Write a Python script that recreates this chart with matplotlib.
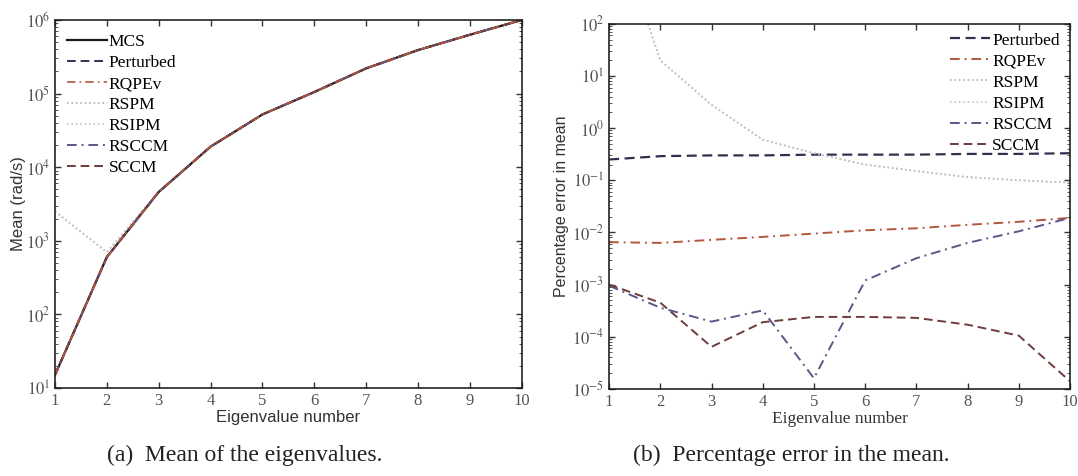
import numpy as np
import matplotlib
matplotlib.use("Agg")
import matplotlib.pyplot as plt
from matplotlib.ticker import LogLocator, FuncFormatter, NullFormatter

plt.rcParams['mathtext.fontset'] = 'stix'

# Eigenvalue index
eig_num = [1, 2, 3, 4, 5, 6, 7, 8, 9, 10]

# Mean of eigenvalues (rad/s)
mean_mcs = [15, 600, 4600, 19000, 52000, 105000, 220000, 390000, 630000, 1000000]
mean_perturbed = [15, 600, 4600, 19000, 52000, 105000, 220000, 390000, 630000, 1000000]
mean_rqpev = [15, 600, 4600, 19000, 52000, 105000, 220000, 390000, 630000, 1000000]
mean_rspm = [2500, 700, 4600, 19000, 52000, 105000, 220000, 390000, 630000, 1000000]
mean_rsipm = [2500, 700, 4600, 19000, 52000, 105000, 220000, 390000, 630000, 1000000]
mean_rsccm = [15, 600, 4600, 19000, 52000, 105000, 220000, 390000, 630000, 1000000]
mean_sccm = [15, 600, 4600, 19000, 52000, 105000, 220000, 390000, 630000, 1000000]

# Percentage error in the mean
err_perturbed = [0.25, 0.29, 0.30, 0.30, 0.31, 0.31, 0.31, 0.32, 0.32, 0.33]
err_rqpev = [0.0065, 0.0063, 0.0072, 0.0082, 0.0095, 0.011, 0.012, 0.014, 0.016, 0.019]
err_rspm = [16000, 20, 2.8, 0.6, 0.33, 0.2, 0.15, 0.115, 0.1, 0.09]
err_rsipm = [16000, 20, 2.8, 0.6, 0.33, 0.2, 0.15, 0.115, 0.1, 0.09]
err_rsccm = [9.5e-4, 3.6e-4, 1.95e-4, 3.2e-4, 1.6e-5, 1.2e-3, 3.2e-3, 6.3e-3, 1.05e-2, 1.9e-2]
err_sccm = [1.0e-3, 4.5e-4, 6.4e-5, 1.9e-4, 2.4e-4, 2.4e-4, 2.3e-4, 1.7e-4, 1.05e-4, 1.4e-5]

C_MCS = '#1a1a1a'
C_PERT = '#2e3150'
C_RQPEV = '#b4553e'
C_RSPM = '#b0b0b8'
C_RSIPM = '#c4c4cc'
C_RSCCM = '#5c5585'
C_SCCM = '#6e3c3c'

DASH = (0, (4.5, 2.5))
DASHDOT = (0, (5, 2.5, 1, 2.5))

SERIF = ['Liberation Serif', 'DejaVu Serif']
SANS = ['Liberation Sans', 'DejaVu Sans']


def pow_fmt(v, pos):
    e = int(round(np.log10(v)))
    return r'$\mathrm{10}^{%d}$' % e


def style_axes(ax, ymin, ymax):
    ax.set_yscale('log')
    ax.set_xlim(1, 10)
    ax.set_ylim(ymin, ymax)
    ax.set_xticks(eig_num)
    ax.yaxis.set_major_locator(LogLocator(base=10, numticks=20))
    ax.yaxis.set_minor_locator(LogLocator(base=10, subs=np.arange(2, 10), numticks=20))
    ax.yaxis.set_major_formatter(FuncFormatter(pow_fmt))
    ax.yaxis.set_minor_formatter(NullFormatter())
    ax.tick_params(which='both', direction='in', top=True, right=True,
                   colors='#333333', labelcolor='#555555', labelsize=12)
    ax.tick_params(which='major', length=4, width=1.0)
    ax.tick_params(which='minor', length=2, width=0.6)
    for lab in ax.get_xticklabels():
        lab.set_fontfamily(SERIF)
    for sp in ax.spines.values():
        sp.set_color('#222222')
        sp.set_linewidth(1.2)


fig = plt.figure(figsize=(10.78, 4.76), dpi=100)

# Mean of eigenvalues
ax1 = fig.add_axes([0.051, 0.185, 0.433, 0.773])
ax1.plot(eig_num, mean_rspm, ':', color=C_RSPM, lw=1.2, label='RSPM')
ax1.plot(eig_num, mean_rsipm, ':', color=C_RSIPM, lw=1.2, label='RSIPM')
ax1.plot(eig_num, mean_mcs, '-', color=C_MCS, lw=1.6, label='MCS')
ax1.plot(eig_num, mean_perturbed, linestyle=DASH, color=C_PERT, lw=1.4, label='Perturbed')
ax1.plot(eig_num, mean_rsccm, linestyle=DASHDOT, color=C_RSCCM, lw=1.4, label='RSCCM')
ax1.plot(eig_num, mean_sccm, linestyle=DASH, color=C_SCCM, lw=1.4, label='SCCM')
ax1.plot(eig_num, mean_rqpev, linestyle=DASHDOT, color=C_RQPEV, lw=1.2, label='RQPEv')
style_axes(ax1, 1e1, 1e6)
ax1.set_xlabel('Eigenvalue number', fontfamily=SANS, fontsize=12, color='#333333', labelpad=1)
ax1.set_ylabel('Mean (rad/s)', fontfamily=SANS, fontsize=12, color='#333333', labelpad=0)
h, l = ax1.get_legend_handles_labels()
order = ['MCS', 'Perturbed', 'RQPEv', 'RSPM', 'RSIPM', 'RSCCM', 'SCCM']
hd = dict(zip(l, h))
ax1.legend([hd[k] for k in order], order, loc='upper left', frameon=False,
           prop={'family': SERIF, 'size': 12.5}, handlelength=2.3,
           handletextpad=0.1, labelspacing=0.28, borderaxespad=0.3,
           bbox_to_anchor=(0.0, 0.995))

# Percentage error in the mean
ax2 = fig.add_axes([0.565, 0.183, 0.4276, 0.767])
ax2.plot(eig_num, err_perturbed, linestyle=DASH, color=C_PERT, lw=1.6, label='Perturbed')
ax2.plot(eig_num, err_rqpev, linestyle=DASHDOT, color=C_RQPEV, lw=1.4, label='RQPEv')
ax2.plot(eig_num, err_rspm, ':', color=C_RSPM, lw=1.2, label='RSPM')
ax2.plot(eig_num, err_rsipm, ':', color=C_RSIPM, lw=1.2, label='RSIPM')
ax2.plot(eig_num, err_rsccm, linestyle=DASHDOT, color=C_RSCCM, lw=1.4, label='RSCCM')
ax2.plot(eig_num, err_sccm, linestyle=DASH, color=C_SCCM, lw=1.4, label='SCCM')
style_axes(ax2, 1e-5, 1e2)
ax2.set_xlabel('Eigenvalue number', fontfamily=SERIF, fontsize=12.5, color='#333333', labelpad=1)
ax2.set_ylabel('Percentage error in mean', fontfamily=SANS, fontsize=11.5, color='#333333', labelpad=2)
ax2.legend(loc='upper right', frameon=False,
           prop={'family': SERIF, 'size': 12.5}, handlelength=2.3,
           handletextpad=0.1, labelspacing=0.28, borderaxespad=0.2,
           bbox_to_anchor=(1.0, 1.005))

fig.text(0.227, 0.043, '(a)  Mean of the eigenvalues.', ha='center', va='center',
         fontfamily=SERIF, fontsize=17, color='#222222')
fig.text(0.734, 0.043, '(b)  Percentage error in the mean.', ha='center', va='center',
         fontfamily=SERIF, fontsize=17, color='#222222')

fig.savefig('out.png', dpi=100, facecolor='white')
